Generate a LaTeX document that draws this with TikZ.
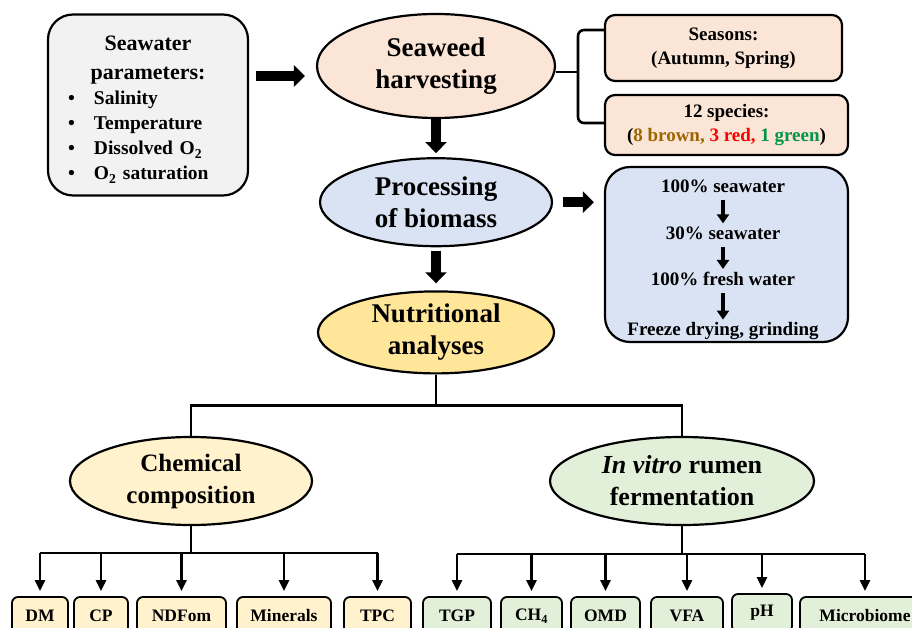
\documentclass[tikz,border=0pt]{standalone}
\usepackage{fontspec}
\setmainfont{Liberation Serif}
\usetikzlibrary{shapes.geometric,arrows.meta,positioning,calc}

\definecolor{paramgray}{HTML}{F2F2F2}
\definecolor{harvpeach}{HTML}{FBE5D6}
\definecolor{procblue}{HTML}{DAE3F3}
\definecolor{nutryellow}{HTML}{FFE699}
\definecolor{chemcream}{HTML}{FFF2CC}
\definecolor{vitrogreen}{HTML}{E2F0D9}
\definecolor{brownsp}{RGB}{156,101,0}
\definecolor{greensp}{RGB}{0,150,70}

\newcommand{\paramitem}[1]{\makebox[160pt][l]{\makebox[26pt][l]{\textbullet}#1}}

\begin{document}
\begin{tikzpicture}[
    x=1pt, y=-1pt,
    oval/.style={ellipse, draw, line width=2.2pt, inner sep=0pt, align=center, font=\fontsize{27}{32}\selectfont\bfseries},
    bigbox/.style={rectangle, draw, line width=2.2pt, rounded corners=25pt},
    infobox/.style={rectangle, draw, line width=2.2pt, rounded corners=10pt, fill=harvpeach, align=center, font=\fontsize{19}{24}\selectfont\bfseries},
    stepnode/.style={inner sep=1pt, font=\fontsize{19}{24}\selectfont\bfseries},
    leaf/.style={rectangle, draw, line width=1.8pt, rounded corners=6pt, minimum height=38pt, inner sep=0pt, font=\fontsize{17.5}{21}\selectfont\bfseries},
    conn/.style={line width=2.6pt},
    leafarrow/.style={-{Triangle[length=11pt, width=10pt]}},
    blockarrow/.style={line width=10pt, -{Triangle[length=11pt, width=21pt]}},
    smallarrow/.style={line width=4.5pt, -{Triangle[length=9pt, width=12pt]}}
]
    \useasboundingbox (0,0) rectangle (912,628);

    % top row
    \node[bigbox, fill=paramgray, minimum width=200pt, minimum height=181pt, text width=190pt, align=center,
          font=\fontsize{19.5}{25}\selectfont\bfseries] (params) at (148,105)
        {{\fontsize{22}{25}\selectfont\rule{0pt}{24pt}Seawater}\\[4pt]
         {\fontsize{22}{25}\selectfont parameters:}\\
         \paramitem{Salinity}\\
         \paramitem{Temperature}\\
         \paramitem{Dissolved O\textsubscript{2}}\\
         \paramitem{O\textsubscript{2} saturation}\par};
    \node[oval, fill=harvpeach, minimum width=238pt, minimum height=104pt] (harv) at (436,66) {Seaweed\\harvesting};
    \node[infobox, minimum width=237pt, minimum height=66pt] (seasons) at (723.5,48) {Seasons:\\(Autumn, Spring)};
    \node[infobox, minimum width=243pt, minimum height=60pt] (species) at (726.5,125)
        {12 species:\\(\textcolor{brownsp}{8 brown,} \textcolor{red}{3 red,} \textcolor{greensp}{1 green})};

    % middle column
    \node[oval, fill=procblue, minimum width=232pt, minimum height=88pt, below=38pt of harv] (proc) {Processing\\of biomass};
    \node[oval, fill=nutryellow, minimum width=236pt, minimum height=82pt, below=43pt of proc] (nutr) {Nutritional\\analyses};

    % processing steps
    \node[bigbox, fill=procblue, minimum width=243pt, minimum height=175pt] (procbox) at (726.5,254.5) {};
    \node[stepnode] (s1) at (723,186) {100\% seawater};
    \node[stepnode] (s2) at (723,233) {30\% seawater};
    \node[stepnode] (s3) at (723,279) {100\% fresh water};
    \node[stepnode] (s4) at (723,331.5) {Freeze drying, grinding};

    % second level
    \node[oval, fill=chemcream, minimum width=242pt, minimum height=88pt, font=\fontsize{25}{32}\selectfont\bfseries] (chem) at (191,481) {Chemical\\composition};
    \node[oval, fill=vitrogreen, minimum width=264pt, minimum height=88pt, font=\fontsize{26}{32}\selectfont\bfseries] (vitro) at (682,481) {\textit{In vitro} rumen\\fermentation};

    % leaves
    \node[leaf, fill=chemcream, minimum width=56pt] (dm) at (40,616) {DM};
    \node[leaf, fill=chemcream, minimum width=54pt] (cp) at (101,616) {CP};
    \node[leaf, fill=chemcream, minimum width=89pt] (ndf) at (181.5,616) {NDFom};
    \node[leaf, fill=chemcream, minimum width=94pt] (mine) at (284,616) {Minerals};
    \node[leaf, fill=chemcream, minimum width=67pt] (tpc) at (377.5,616) {TPC};
    \node[leaf, fill=vitrogreen, minimum width=68pt] (tgp) at (457,616) {TGP};
    \node[leaf, fill=vitrogreen, minimum width=61pt] (ch) at (531.5,616) {CH\textsubscript{4}};
    \node[leaf, fill=vitrogreen, minimum width=69pt] (omd) at (605.5,616) {OMD};
    \node[leaf, fill=vitrogreen, minimum width=72pt] (vfa) at (687,616) {VFA};
    \node[leaf, fill=vitrogreen, minimum width=60pt] (ph) at (762,613) {\raisebox{3pt}{pH}};
    \node[leaf, fill=vitrogreen, minimum width=130pt] (micro) at (865,616) {Microbiome};

    % block arrows
    \draw[blockarrow, shorten <=7pt, shorten >=11pt] ([yshift=-10pt]harv.west -| params.east) -- ([yshift=-10pt]harv.west);
    \draw[blockarrow, shorten >=4pt] (harv.south) -- (proc.north);
    \draw[blockarrow, shorten <=4pt, shorten >=7pt] (proc.south) -- (nutr.north);
    \draw[blockarrow, shorten <=10pt, shorten >=10pt] (proc.east) -- (proc.east -| procbox.west);
    \foreach \a/\b in {s1/s2,s2/s3,s3/s4}
        \draw[smallarrow, shorten <=6pt, shorten >=2pt] (\a.south) -- (\b.north);

    % brace to seasons and species
    \coordinate (btip) at (578,72);
    \draw[conn, rounded corners=6pt] ([yshift=18pt]seasons.west) -| (btip) |- ([yshift=2pt]species.west);
    \draw[conn] ([yshift=-6pt]harv.east) -- (btip);

    % tree below nutritional analyses
    \coordinate (nbar) at ($(nutr.south)+(0,31)$);
    \draw[conn] (nutr.south) -- (nbar);
    \draw[conn] (chem.north) |- (nbar) -| (vitro.north);

    \coordinate (cbar) at ($(chem.south)+(0,27)$);
    \draw[conn] (chem.south) -- (cbar);
    \draw[conn] (dm.north |- cbar) -- (tpc.north |- cbar);
    \foreach \leafname in {dm,cp,ndf,mine,tpc}
        \draw[conn, leafarrow] (\leafname.north |- cbar) -- ([yshift=5pt]\leafname.north);

    \coordinate (vbar) at ($(vitro.south)+(0,28)$);
    \draw[conn] (vitro.south) -- (vbar);
    \draw[conn] (tgp.north |- vbar) -- (micro.north |- vbar);
    \foreach \leafname in {tgp,ch,omd,vfa,ph,micro}
        \draw[conn, leafarrow] (\leafname.north |- vbar) -- ([yshift=5pt]\leafname.north);
\end{tikzpicture}
\end{document}
